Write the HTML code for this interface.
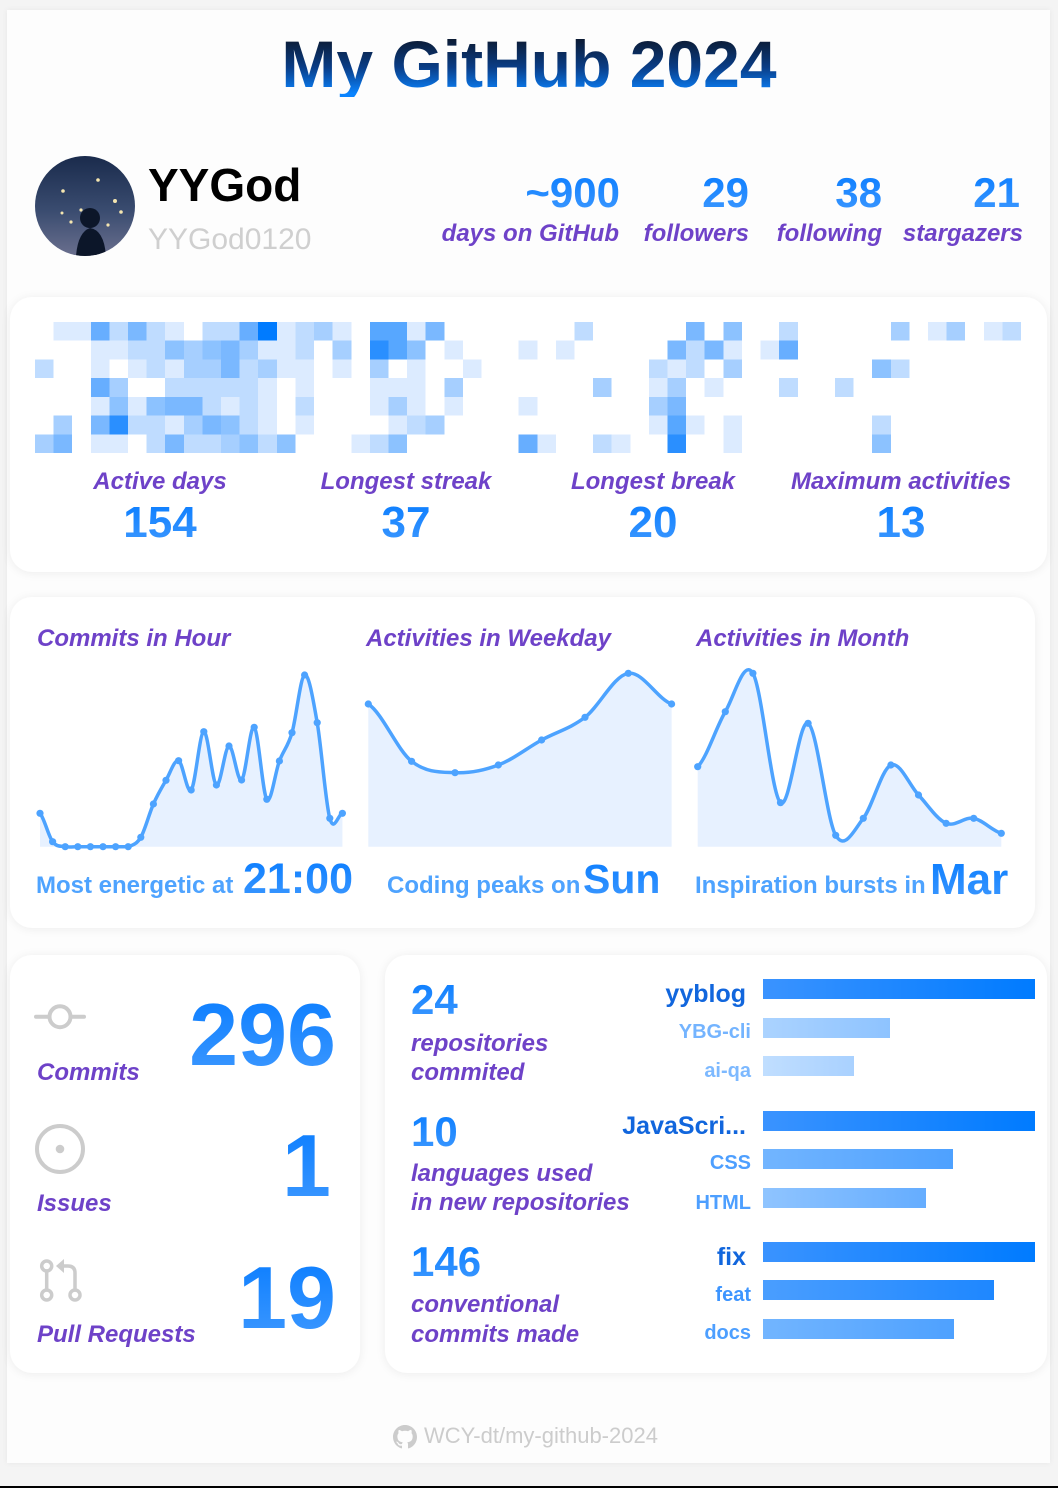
<!DOCTYPE html>
<html><head><meta charset="utf-8">
<style>
*{margin:0;padding:0;box-sizing:border-box}
html,body{width:1058px;height:1488px;overflow:hidden;background:#f4f4f4}
body{position:relative;font-family:"Liberation Sans",Arial,sans-serif}
.outer{position:absolute;left:7px;top:10px;width:1043px;height:1453px;background:#fdfdfd;box-shadow:0 0 6px rgba(0,0,0,0.06)}
.card{position:absolute;background:#fff;border-radius:22px;box-shadow:0 1px 10px rgba(0,0,0,0.07)}
.t{position:absolute;white-space:nowrap;line-height:1}
.lbl{font-style:italic;font-weight:bold;font-size:24px;color:#6e42c8}
.num{font-weight:bold;background:linear-gradient(180deg,#0a7dff,#3d98ff);-webkit-background-clip:text;background-clip:text;color:transparent}
.sub{font-weight:bold;font-size:24px;color:#4ea3ff}
.pl{font-weight:bold;font-size:25px;color:#1166dd;text-align:right}
.sl{font-weight:bold;font-size:20px;text-align:right}
svg{position:absolute;left:0;top:0}
.a1{fill:#dcebff}.a2{fill:#bfdcff}.a3{fill:#a6cfff}.a4{fill:#8cc2ff}.a5{fill:#7ab8ff}.a6{fill:#67aeff}.a7{fill:#57a7ff}.a8{fill:#2a8fff}.a9{fill:#007bff}
</style></head>
<body>
<div class="outer"></div>
<div class="card" style="left:10px;top:297px;width:1037px;height:275px"></div>
<div class="card" style="left:10px;top:597px;width:1025px;height:331px"></div>
<div class="card" style="left:10px;top:955px;width:350px;height:418px"></div>
<div class="card" style="left:385px;top:955px;width:662px;height:418px"></div>
<div style="position:absolute;left:0;top:1486px;width:1058px;height:2px;background:#000"></div>

<svg width="1058" height="1488" viewBox="0 0 1058 1488">
<defs>
<linearGradient id="av" x1="0" y1="0" x2="0" y2="1"><stop offset="0" stop-color="#1a2b4c"/><stop offset="0.55" stop-color="#3a4c70"/><stop offset="1" stop-color="#6a6f8e"/></linearGradient>
<clipPath id="avc"><circle cx="85" cy="206" r="50"/></clipPath>
<linearGradient id="g1" x1="0" x2="1"><stop offset="0" stop-color="#3a93ff"/><stop offset="0.45" stop-color="#2088ff"/><stop offset="1" stop-color="#007bff"/></linearGradient>
<linearGradient id="g2" x1="0" x2="1"><stop offset="0" stop-color="#abd3ff"/><stop offset="1" stop-color="#8ec3ff"/></linearGradient>
<linearGradient id="g3" x1="0" x2="1"><stop offset="0" stop-color="#c0deff"/><stop offset="1" stop-color="#a9d1ff"/></linearGradient>
<linearGradient id="g4" x1="0" x2="1"><stop offset="0" stop-color="#72b5ff"/><stop offset="1" stop-color="#4ea1ff"/></linearGradient>
<linearGradient id="g5" x1="0" x2="1"><stop offset="0" stop-color="#8fc4ff"/><stop offset="1" stop-color="#65adff"/></linearGradient>
<linearGradient id="g6" x1="0" x2="1"><stop offset="0" stop-color="#4a9eff"/><stop offset="1" stop-color="#1e87ff"/></linearGradient>
</defs>
<!-- avatar -->
<g clip-path="url(#avc)">
<rect x="35" y="156" width="100" height="100" fill="url(#av)"/>
<circle cx="98" cy="180" r="1.8" fill="#f5e6b0"/><circle cx="63" cy="191" r="1.8" fill="#f5e6b0"/><circle cx="115" cy="201" r="2" fill="#f5e6b0"/><circle cx="81" cy="210" r="1.6" fill="#f5e6b0"/><circle cx="71" cy="222" r="1.6" fill="#f5e6b0"/><circle cx="62" cy="213" r="1.5" fill="#f5e6b0"/><circle cx="121" cy="212" r="1.8" fill="#f5e6b0"/><circle cx="108" cy="225" r="1.6" fill="#f5e6b0"/>
<circle cx="90" cy="218" r="10" fill="#0c1629"/>
<path d="M76 256 Q78 232 90 228 Q104 230 106 256 Z" fill="#0c1629"/>
</g>
<!-- heatmap -->
<svg x="35" y="322" width="986" height="131" viewBox="0 0 53 7" preserveAspectRatio="none" shape-rendering="crispEdges">
<rect x="1" y="0" width="2" height="1" class="a1"/><rect x="3" y="0" width="1" height="1" class="a6"/><rect x="4" y="0" width="1" height="1" class="a2"/><rect x="5" y="0" width="1" height="1" class="a5"/><rect x="6" y="0" width="1" height="1" class="a2"/><rect x="7" y="0" width="1" height="1" class="a1"/><rect x="9" y="0" width="2" height="1" class="a2"/><rect x="11" y="0" width="1" height="1" class="a6"/><rect x="12" y="0" width="1" height="1" class="a9"/><rect x="13" y="0" width="1" height="1" class="a1"/><rect x="14" y="0" width="1" height="1" class="a2"/><rect x="15" y="0" width="1" height="1" class="a3"/><rect x="16" y="0" width="1" height="1" class="a1"/><rect x="18" y="0" width="2" height="1" class="a7"/><rect x="20" y="0" width="1" height="1" class="a1"/><rect x="21" y="0" width="1" height="1" class="a5"/><rect x="29" y="0" width="1" height="1" class="a2"/><rect x="35" y="0" width="1" height="1" class="a5"/><rect x="37" y="0" width="1" height="1" class="a4"/><rect x="40" y="0" width="1" height="1" class="a2"/><rect x="46" y="0" width="1" height="1" class="a3"/><rect x="48" y="0" width="1" height="1" class="a1"/><rect x="49" y="0" width="1" height="1" class="a3"/><rect x="51" y="0" width="1" height="1" class="a1"/><rect x="52" y="0" width="1" height="1" class="a2"/>
<rect x="3" y="1" width="2" height="1" class="a1"/><rect x="5" y="1" width="2" height="1" class="a2"/><rect x="7" y="1" width="1" height="1" class="a4"/><rect x="8" y="1" width="1" height="1" class="a3"/><rect x="9" y="1" width="1" height="1" class="a4"/><rect x="10" y="1" width="1" height="1" class="a5"/><rect x="11" y="1" width="1" height="1" class="a3"/><rect x="12" y="1" width="2" height="1" class="a1"/><rect x="14" y="1" width="1" height="1" class="a2"/><rect x="16" y="1" width="1" height="1" class="a3"/><rect x="18" y="1" width="1" height="1" class="a8"/><rect x="19" y="1" width="1" height="1" class="a7"/><rect x="20" y="1" width="1" height="1" class="a4"/><rect x="22" y="1" width="1" height="1" class="a1"/><rect x="26" y="1" width="1" height="1" class="a1"/><rect x="28" y="1" width="1" height="1" class="a1"/><rect x="34" y="1" width="1" height="1" class="a5"/><rect x="35" y="1" width="1" height="1" class="a2"/><rect x="36" y="1" width="1" height="1" class="a5"/><rect x="37" y="1" width="1" height="1" class="a1"/><rect x="39" y="1" width="1" height="1" class="a1"/><rect x="40" y="1" width="1" height="1" class="a6"/>
<rect x="0" y="2" width="1" height="1" class="a2"/><rect x="3" y="2" width="1" height="1" class="a1"/><rect x="5" y="2" width="1" height="1" class="a1"/><rect x="6" y="2" width="1" height="1" class="a2"/><rect x="7" y="2" width="1" height="1" class="a1"/><rect x="8" y="2" width="2" height="1" class="a3"/><rect x="10" y="2" width="1" height="1" class="a5"/><rect x="11" y="2" width="1" height="1" class="a2"/><rect x="12" y="2" width="1" height="1" class="a3"/><rect x="13" y="2" width="2" height="1" class="a1"/><rect x="16" y="2" width="1" height="1" class="a1"/><rect x="18" y="2" width="1" height="1" class="a3"/><rect x="20" y="2" width="1" height="1" class="a1"/><rect x="23" y="2" width="1" height="1" class="a1"/><rect x="33" y="2" width="1" height="1" class="a2"/><rect x="34" y="2" width="1" height="1" class="a1"/><rect x="35" y="2" width="1" height="1" class="a2"/><rect x="37" y="2" width="1" height="1" class="a3"/><rect x="45" y="2" width="1" height="1" class="a4"/><rect x="46" y="2" width="1" height="1" class="a2"/>
<rect x="3" y="3" width="1" height="1" class="a6"/><rect x="4" y="3" width="1" height="1" class="a3"/><rect x="7" y="3" width="5" height="1" class="a2"/><rect x="12" y="3" width="1" height="1" class="a1"/><rect x="14" y="3" width="1" height="1" class="a1"/><rect x="18" y="3" width="3" height="1" class="a1"/><rect x="22" y="3" width="1" height="1" class="a3"/><rect x="30" y="3" width="1" height="1" class="a3"/><rect x="33" y="3" width="1" height="1" class="a1"/><rect x="34" y="3" width="1" height="1" class="a3"/><rect x="36" y="3" width="1" height="1" class="a1"/><rect x="40" y="3" width="1" height="1" class="a2"/><rect x="43" y="3" width="1" height="1" class="a2"/>
<rect x="3" y="4" width="1" height="1" class="a1"/><rect x="4" y="4" width="1" height="1" class="a4"/><rect x="5" y="4" width="1" height="1" class="a1"/><rect x="6" y="4" width="1" height="1" class="a4"/><rect x="7" y="4" width="2" height="1" class="a5"/><rect x="9" y="4" width="1" height="1" class="a2"/><rect x="10" y="4" width="1" height="1" class="a1"/><rect x="11" y="4" width="1" height="1" class="a2"/><rect x="12" y="4" width="1" height="1" class="a1"/><rect x="14" y="4" width="1" height="1" class="a2"/><rect x="18" y="4" width="1" height="1" class="a1"/><rect x="19" y="4" width="1" height="1" class="a3"/><rect x="20" y="4" width="1" height="1" class="a1"/><rect x="22" y="4" width="1" height="1" class="a1"/><rect x="26" y="4" width="1" height="1" class="a1"/><rect x="33" y="4" width="1" height="1" class="a3"/><rect x="34" y="4" width="1" height="1" class="a5"/>
<rect x="1" y="5" width="1" height="1" class="a3"/><rect x="3" y="5" width="1" height="1" class="a5"/><rect x="4" y="5" width="1" height="1" class="a8"/><rect x="5" y="5" width="2" height="1" class="a2"/><rect x="7" y="5" width="1" height="1" class="a1"/><rect x="8" y="5" width="1" height="1" class="a3"/><rect x="9" y="5" width="1" height="1" class="a5"/><rect x="10" y="5" width="1" height="1" class="a4"/><rect x="11" y="5" width="1" height="1" class="a2"/><rect x="12" y="5" width="1" height="1" class="a1"/><rect x="14" y="5" width="1" height="1" class="a1"/><rect x="19" y="5" width="1" height="1" class="a1"/><rect x="20" y="5" width="1" height="1" class="a2"/><rect x="21" y="5" width="1" height="1" class="a3"/><rect x="33" y="5" width="1" height="1" class="a1"/><rect x="34" y="5" width="1" height="1" class="a7"/><rect x="35" y="5" width="1" height="1" class="a1"/><rect x="37" y="5" width="1" height="1" class="a1"/><rect x="45" y="5" width="1" height="1" class="a2"/>
<rect x="0" y="6" width="1" height="1" class="a3"/><rect x="1" y="6" width="1" height="1" class="a5"/><rect x="3" y="6" width="2" height="1" class="a1"/><rect x="6" y="6" width="1" height="1" class="a2"/><rect x="7" y="6" width="1" height="1" class="a5"/><rect x="8" y="6" width="2" height="1" class="a2"/><rect x="10" y="6" width="1" height="1" class="a3"/><rect x="11" y="6" width="1" height="1" class="a4"/><rect x="12" y="6" width="1" height="1" class="a2"/><rect x="13" y="6" width="1" height="1" class="a4"/><rect x="17" y="6" width="1" height="1" class="a1"/><rect x="18" y="6" width="1" height="1" class="a2"/><rect x="19" y="6" width="1" height="1" class="a4"/><rect x="26" y="6" width="1" height="1" class="a6"/><rect x="27" y="6" width="1" height="1" class="a1"/><rect x="30" y="6" width="1" height="1" class="a2"/><rect x="31" y="6" width="1" height="1" class="a1"/><rect x="34" y="6" width="1" height="1" class="a8"/><rect x="37" y="6" width="1" height="1" class="a1"/><rect x="45" y="6" width="1" height="1" class="a4"/>
</svg>
<!-- hour chart -->
<path fill="#e7f1ff" d="M40 813.3 C44.2 818 48.4 836.1 52.6 841.7 C56.8 847.3 61 845.9 65.2 846.7 C69.4 847.5 73.6 846.7 77.8 846.7 L128.2 846.7 C132.4 845.1 136.6 844.4 140.8 837.3 C145 830.2 149.2 813.5 153.4 804 C157.6 794.5 161.8 787.5 166 780.3 C170.2 773.1 174.4 759.1 178.6 760.7 C182.8 762.3 187 794.8 191.2 790 C195.4 785.2 199.6 732.5 203.8 731.7 C208 730.9 212.2 782.6 216.4 785 C220.6 787.4 224.8 746.8 229 746 C233.2 745.2 237.4 783.1 241.6 780 C245.8 776.9 250 724.1 254.2 727.3 C258.4 730.5 262.6 793.7 266.8 799.3 C271 804.9 275.2 772.1 279.4 761 C283.6 749.9 287.8 747 292 732.7 C296.2 718.4 300.4 676.7 304.6 675 C308.8 673.3 313 698.8 317.2 722.7 C321.4 746.6 325.6 803.2 329.8 818.3 C334 833.4 338.2 814.1 342.4 813.3 L342.4 846.7 L40 846.7 Z"/>
<path fill="none" stroke="#4da3ff" stroke-width="3.5" stroke-linecap="round" stroke-linejoin="round" d="M40 813.3 C44.2 818 48.4 836.1 52.6 841.7 C56.8 847.3 61 845.9 65.2 846.7 C69.4 847.5 73.6 846.7 77.8 846.7 L128.2 846.7 C132.4 845.1 136.6 844.4 140.8 837.3 C145 830.2 149.2 813.5 153.4 804 C157.6 794.5 161.8 787.5 166 780.3 C170.2 773.1 174.4 759.1 178.6 760.7 C182.8 762.3 187 794.8 191.2 790 C195.4 785.2 199.6 732.5 203.8 731.7 C208 730.9 212.2 782.6 216.4 785 C220.6 787.4 224.8 746.8 229 746 C233.2 745.2 237.4 783.1 241.6 780 C245.8 776.9 250 724.1 254.2 727.3 C258.4 730.5 262.6 793.7 266.8 799.3 C271 804.9 275.2 772.1 279.4 761 C283.6 749.9 287.8 747 292 732.7 C296.2 718.4 300.4 676.7 304.6 675 C308.8 673.3 313 698.8 317.2 722.7 C321.4 746.6 325.6 803.2 329.8 818.3 C334 833.4 338.2 814.1 342.4 813.3"/>
<g fill="#4da3ff">
<circle cx="40" cy="813.3" r="3.6"/><circle cx="52.6" cy="841.7" r="3.6"/><circle cx="65.2" cy="846.7" r="3.6"/><circle cx="77.8" cy="846.7" r="3.6"/><circle cx="90.4" cy="846.7" r="3.6"/><circle cx="103" cy="846.7" r="3.6"/><circle cx="115.6" cy="846.7" r="3.6"/><circle cx="128.2" cy="846.7" r="3.6"/><circle cx="140.8" cy="837.3" r="3.6"/><circle cx="153.4" cy="804" r="3.6"/><circle cx="166" cy="780.3" r="3.6"/><circle cx="178.6" cy="760.7" r="3.6"/><circle cx="191.2" cy="790" r="3.6"/><circle cx="203.8" cy="731.7" r="3.6"/><circle cx="216.4" cy="785" r="3.6"/><circle cx="229" cy="746" r="3.6"/><circle cx="241.6" cy="780" r="3.6"/><circle cx="254.2" cy="727.3" r="3.6"/><circle cx="266.8" cy="799.3" r="3.6"/><circle cx="279.4" cy="761" r="3.6"/><circle cx="292" cy="732.7" r="3.6"/><circle cx="304.6" cy="675" r="3.6"/><circle cx="317.2" cy="722.7" r="3.6"/><circle cx="329.8" cy="818.3" r="3.6"/><circle cx="342.4" cy="813.3" r="3.6"/>
</g>
<!-- weekday chart -->
<path fill="#e7f1ff" d="M368.3 704 C382.7 713.6 397.2 749.9 411.6 761.3 C426.1 772.8 440.6 772.1 455 772.7 C469.4 773.3 483.9 770.5 498.3 765 C512.7 759.6 527.2 748 541.6 740 C556 732.1 570.6 728.4 585 717.3 C599.4 706.2 613.9 675.5 628.3 673.3 C642.7 671.1 657.2 698.9 671.6 704 L671.6 846.7 L368.3 846.7 Z"/>
<path fill="none" stroke="#4da3ff" stroke-width="3.5" stroke-linecap="round" d="M368.3 704 C382.7 713.6 397.2 749.9 411.6 761.3 C426.1 772.8 440.6 772.1 455 772.7 C469.4 773.3 483.9 770.5 498.3 765 C512.7 759.6 527.2 748 541.6 740 C556 732.1 570.6 728.4 585 717.3 C599.4 706.2 613.9 675.5 628.3 673.3 C642.7 671.1 657.2 698.9 671.6 704"/>
<g fill="#4da3ff">
<circle cx="368.3" cy="704" r="3.6"/><circle cx="411.6" cy="761.3" r="3.6"/><circle cx="455" cy="772.7" r="3.6"/><circle cx="498.3" cy="765" r="3.6"/><circle cx="541.6" cy="740" r="3.6"/><circle cx="585" cy="717.3" r="3.6"/><circle cx="628.3" cy="673.3" r="3.6"/><circle cx="671.6" cy="704" r="3.6"/>
</g>
<!-- month chart -->
<path fill="#e7f1ff" d="M697.7 766.7 C706.9 757.5 716.1 727.3 725.3 711.7 C734.5 696.1 743.7 658.1 752.9 673.3 C762.1 688.5 771.3 794.4 780.5 802.7 C789.7 811 798.9 717.9 808.1 723.3 C817.3 728.7 826.5 819.5 835.7 835.3 C844.9 851.1 854.1 830 863.3 818.3 C872.5 806.6 881.7 768.9 890.9 765 C900.1 761.1 909.3 785.3 918.5 795 C927.7 804.7 936.9 819.4 946.1 823.3 C955.3 827.2 964.5 816.6 973.7 818.3 C982.9 820 992.1 830.8 1001.3 833.3 L1001.3 846.7 L697.7 846.7 Z"/>
<path fill="none" stroke="#4da3ff" stroke-width="3.5" stroke-linecap="round" d="M697.7 766.7 C706.9 757.5 716.1 727.3 725.3 711.7 C734.5 696.1 743.7 658.1 752.9 673.3 C762.1 688.5 771.3 794.4 780.5 802.7 C789.7 811 798.9 717.9 808.1 723.3 C817.3 728.7 826.5 819.5 835.7 835.3 C844.9 851.1 854.1 830 863.3 818.3 C872.5 806.6 881.7 768.9 890.9 765 C900.1 761.1 909.3 785.3 918.5 795 C927.7 804.7 936.9 819.4 946.1 823.3 C955.3 827.2 964.5 816.6 973.7 818.3 C982.9 820 992.1 830.8 1001.3 833.3"/>
<g fill="#4da3ff">
<circle cx="697.7" cy="766.7" r="3.6"/><circle cx="725.3" cy="711.7" r="3.6"/><circle cx="752.9" cy="673.3" r="3.6"/><circle cx="780.5" cy="802.7" r="3.6"/><circle cx="808.1" cy="723.3" r="3.6"/><circle cx="835.7" cy="835.3" r="3.6"/><circle cx="863.3" cy="818.3" r="3.6"/><circle cx="890.9" cy="765" r="3.6"/><circle cx="918.5" cy="795" r="3.6"/><circle cx="946.1" cy="823.3" r="3.6"/><circle cx="973.7" cy="818.3" r="3.6"/><circle cx="1001.3" cy="833.3" r="3.6"/>
</g>
<!-- icons -->
<g stroke="#cccccc" fill="none" stroke-width="4" stroke-linecap="round">
<line x1="36" y1="1016.7" x2="48" y2="1016.7"/><line x1="72" y1="1016.7" x2="84" y2="1016.7"/><circle cx="60" cy="1016.7" r="10.5"/>
<circle cx="60" cy="1149" r="23"/>
<circle cx="46.7" cy="1266" r="5" stroke-width="3.5"/><line x1="46.7" y1="1271" x2="46.7" y2="1290" stroke-width="3.5"/><circle cx="46.7" cy="1295" r="5" stroke-width="3.5"/>
<circle cx="75" cy="1295" r="5" stroke-width="3.5"/><path d="M75 1290 L75 1273 Q75 1266 68 1266 L63 1266" stroke-width="3.5"/>
</g>
<circle cx="60" cy="1149" r="4.3" fill="#cccccc"/>
<path d="M56 1266 L64 1259 L64 1273 Z" fill="#cccccc"/>
<!-- bars -->
<rect x="763" y="979" width="272" height="20" fill="url(#g1)"/>
<rect x="763" y="1018" width="127" height="20" fill="url(#g2)"/>
<rect x="763" y="1056" width="91" height="20" fill="url(#g3)"/>
<rect x="763" y="1111" width="272" height="20" fill="url(#g1)"/>
<rect x="763" y="1149" width="190" height="20" fill="url(#g4)"/>
<rect x="763" y="1188" width="163" height="20" fill="url(#g5)"/>
<rect x="763" y="1242" width="272" height="20" fill="url(#g1)"/>
<rect x="763" y="1280" width="231" height="20" fill="url(#g6)"/>
<rect x="763" y="1319" width="191" height="20" fill="url(#g4)"/>
<!-- github mark -->
<g transform="translate(393,1425) scale(1.5)"><path fill="#cccccc" d="M8 0C3.58 0 0 3.58 0 8c0 3.54 2.29 6.53 5.47 7.59.4.07.55-.17.55-.38 0-.19-.01-.82-.01-1.49-2.01.37-2.53-.49-2.69-.94-.09-.23-.48-.94-.82-1.13-.28-.15-.68-.52-.01-.53.63-.01 1.08.58 1.23.82.72 1.21 1.87.87 2.33.66.07-.52.28-.87.51-1.07-1.78-.2-3.64-.89-3.64-3.95 0-.87.31-1.59.82-2.15-.08-.2-.36-1.02.08-2.12 0 0 .67-.21 2.2.82.64-.18 1.32-.27 2-.27.68 0 1.36.09 2 .27 1.53-1.04 2.2-.82 2.2-.82.44 1.1.16 1.92.08 2.12.51.56.82 1.27.82 2.15 0 3.07-1.87 3.75-3.65 3.95.29.25.54.73.54 1.48 0 1.07-.01 1.93-.01 2.2 0 .21.15.46.55.38A8.013 8.013 0 0016 8c0-4.42-3.58-8-8-8z"/></g>
</svg>

<!-- header -->
<div class="t" style="left:0;top:31.4px;width:1058px;text-align:center;font-size:66px;font-weight:bold;background:linear-gradient(180deg,#0c1526 5%,#0a3d86 55%,#0a84ff 95%);-webkit-background-clip:text;background-clip:text;color:transparent">My GitHub 2024</div>
<div class="t" style="left:148px;top:162px;font-size:46px;font-weight:bold;color:#000">YYGod</div>
<div class="t" style="left:148px;top:225.3px;font-size:30px;color:#cfcfcf">YYGod0120</div>

<div class="t num" style="right:438px;top:171.7px;font-size:42px">~900</div>
<div class="t num" style="right:309px;top:171.7px;font-size:42px">29</div>
<div class="t num" style="right:176px;top:171.7px;font-size:42px">38</div>
<div class="t num" style="right:38px;top:171.7px;font-size:42px">21</div>
<div class="t lbl" style="right:439px;top:222px">days on GitHub</div>
<div class="t lbl" style="right:309px;top:222px">followers</div>
<div class="t lbl" style="right:176px;top:222px">following</div>
<div class="t lbl" style="right:35px;top:222px">stargazers</div>

<!-- heatmap stats -->
<div class="t lbl" style="left:37px;top:469.5px;width:246px;text-align:center">Active days</div>
<div class="t lbl" style="left:283px;top:469.5px;width:246px;text-align:center">Longest streak</div>
<div class="t lbl" style="left:530px;top:469.5px;width:246px;text-align:center">Longest break</div>
<div class="t lbl" style="left:778px;top:469.5px;width:246px;text-align:center">Maximum activities</div>
<div class="t num" style="left:37px;top:500.8px;width:246px;text-align:center;font-size:44px">154</div>
<div class="t num" style="left:283px;top:500.8px;width:246px;text-align:center;font-size:44px">37</div>
<div class="t num" style="left:530px;top:500.8px;width:246px;text-align:center;font-size:44px">20</div>
<div class="t num" style="left:778px;top:500.8px;width:246px;text-align:center;font-size:44px">13</div>

<!-- chart titles -->
<div class="t lbl" style="left:37px;top:626.5px">Commits in Hour</div>
<div class="t lbl" style="left:366px;top:626.5px">Activities in Weekday</div>
<div class="t lbl" style="left:696px;top:626.5px">Activities in Month</div>
<div class="t sub" style="left:36px;top:874px">Most energetic at</div>
<div class="t num" style="left:243px;top:858px;font-size:43px">21:00</div>
<div class="t sub" style="left:387px;top:874px">Coding peaks on</div>
<div class="t num" style="left:583px;top:859px;font-size:41px">Sun</div>
<div class="t sub" style="left:695px;top:874px">Inspiration bursts in</div>
<div class="t num" style="left:930px;top:858px;font-size:44px">Mar</div>

<!-- left bottom card -->
<div class="t lbl" style="left:37px;top:1061px">Commits</div>
<div class="t lbl" style="left:37px;top:1192px">Issues</div>
<div class="t lbl" style="left:37px;top:1323px">Pull Requests</div>
<div class="t num" style="right:722px;top:990.5px;font-size:88px">296</div>
<div class="t num" style="right:727px;top:1121.5px;font-size:88px">1</div>
<div class="t num" style="right:722px;top:1253.5px;font-size:88px">19</div>

<!-- right bottom card -->
<div class="t num" style="left:411px;top:979.4px;font-size:42px">24</div>
<div class="t lbl" style="left:411px;top:1032px">repositories</div>
<div class="t lbl" style="left:411px;top:1061px">commited</div>
<div class="t num" style="left:411px;top:1111.4px;font-size:42px">10</div>
<div class="t lbl" style="left:411px;top:1162px">languages used</div>
<div class="t lbl" style="left:411px;top:1191px">in new repositories</div>
<div class="t num" style="left:411px;top:1241.4px;font-size:42px">146</div>
<div class="t lbl" style="left:411px;top:1293px">conventional</div>
<div class="t lbl" style="left:411px;top:1322.5px">commits made</div>

<div class="t pl" style="right:312px;top:981.5px">yyblog</div>
<div class="t sl" style="right:307px;top:1022px;color:#74b4ff">YBG-cli</div>
<div class="t sl" style="right:307px;top:1060.5px;color:#7db9ff">ai-qa</div>
<div class="t pl" style="right:312px;top:1113.5px">JavaScri...</div>
<div class="t sl" style="right:307px;top:1152.8px;color:#4d9fff">CSS</div>
<div class="t sl" style="right:307px;top:1192.5px;color:#4d9fff">HTML</div>
<div class="t pl" style="right:312px;top:1244.5px">fix</div>
<div class="t sl" style="right:307px;top:1284.5px;color:#3d95ff">feat</div>
<div class="t sl" style="right:307px;top:1323px;color:#4d9fff">docs</div>

<!-- footer -->
<div class="t" style="left:424px;top:1425.4px;font-size:22px;color:#cccccc">WCY-dt/my-github-2024</div>
</body></html>
